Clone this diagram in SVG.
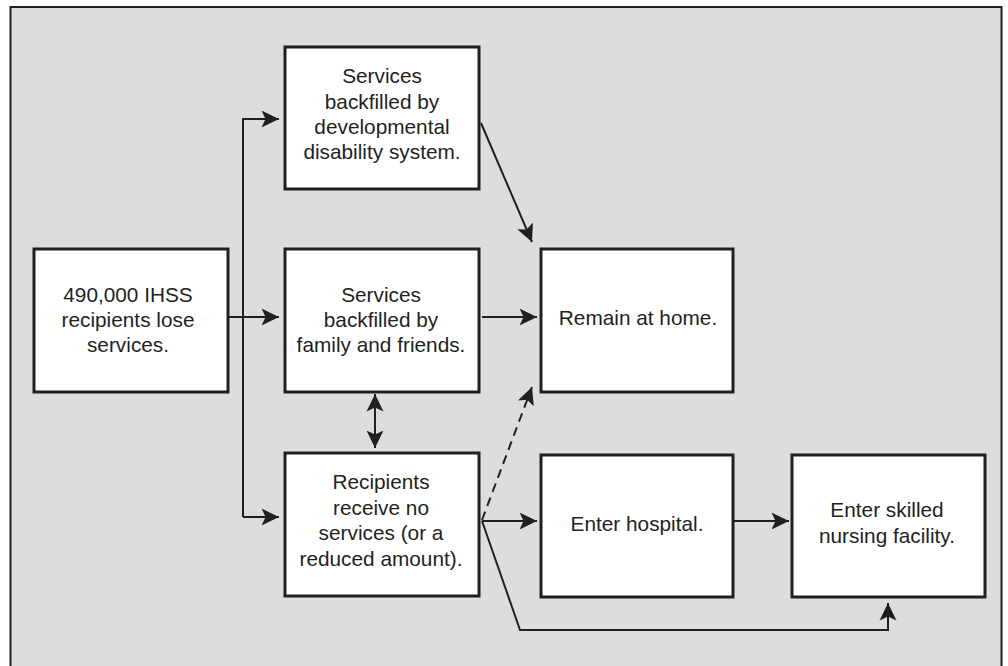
<svg xmlns="http://www.w3.org/2000/svg" width="1008" height="666" viewBox="0 0 1008 666">
<style>
.box{fill:#ffffff;stroke:#231f20;stroke-width:3}
.t{font-family:"Liberation Sans",Arial,sans-serif;font-size:20.8px;fill:#231f20;text-anchor:middle}
.c{fill:none;stroke:#231f20;stroke-width:2}
.d{stroke-dasharray:9,6}
</style>
<defs>
<marker id="ah" markerUnits="userSpaceOnUse" markerWidth="19" markerHeight="19" viewBox="0 0 19 19" refX="17.5" refY="9.5" orient="auto-start-reverse">
<path d="M0,1 L17.5,9.5 L0,18 L4,9.5 z" fill="#231f20"/>
</marker>
</defs>
<rect x="0" y="0" width="1008" height="666" fill="#ffffff"/>
<rect x="10.5" y="7" width="991" height="670" fill="#dcdddf" stroke="#231f20" stroke-width="2"/>
<g id="connectors">
<path class="c" d="M228,317 L279,317" marker-end="url(#ah)"/>
<path class="c" d="M243,517 L243,119 L279,119" marker-end="url(#ah)"/>
<path class="c" d="M243,517 L279,517" marker-end="url(#ah)"/>
<path class="c" d="M481,123 L532,242" marker-end="url(#ah)"/>
<path class="c" d="M482,317 L537,317" marker-end="url(#ah)"/>
<path class="c" d="M375,394 L375,448" marker-start="url(#ah)" marker-end="url(#ah)"/>
<path class="c d" d="M482,520 L532,387" marker-end="url(#ah)"/>
<path class="c" d="M482,521 L537,521" marker-end="url(#ah)"/>
<path class="c" d="M734,521 L789,521" marker-end="url(#ah)"/>
<path class="c" d="M482,521 L520,630 L888,630 L888,603" marker-end="url(#ah)"/>
</g>
<g id="n-ihss">
<rect class="box" x="34" y="249" width="194" height="143"/>
<text class="t" x="128" y="302">490,000 IHSS</text>
<text class="t" x="128" y="327">recipients lose</text>
<text class="t" x="128" y="352">services.</text>
</g>
<g id="n-dd">
<rect class="box" x="285" y="47" width="194" height="142"/>
<text class="t" x="382" y="83">Services</text>
<text class="t" x="382" y="108.5">backfilled by</text>
<text class="t" x="382" y="134">developmental</text>
<text class="t" x="382" y="159">disability system.</text>
</g>
<g id="n-family">
<rect class="box" x="285" y="249" width="194" height="143"/>
<text class="t" x="381" y="302">Services</text>
<text class="t" x="381" y="327">backfilled by</text>
<text class="t" x="381" y="352">family and friends.</text>
</g>
<g id="n-none">
<rect class="box" x="285" y="453" width="194" height="143"/>
<text class="t" x="381" y="489">Recipients</text>
<text class="t" x="381" y="514.5">receive no</text>
<text class="t" x="381" y="540">services (or a</text>
<text class="t" x="381" y="565.5">reduced amount).</text>
</g>
<g id="n-home">
<rect class="box" x="541" y="249" width="192" height="143"/>
<text class="t" x="638" y="325">Remain at home.</text>
</g>
<g id="n-hospital">
<rect class="box" x="541" y="455" width="192" height="142"/>
<text class="t" x="637" y="531">Enter hospital.</text>
</g>
<g id="n-snf">
<rect class="box" x="792" y="455" width="193" height="142"/>
<text class="t" x="887" y="517">Enter skilled</text>
<text class="t" x="887" y="542.5">nursing facility.</text>
</g>
</svg>
